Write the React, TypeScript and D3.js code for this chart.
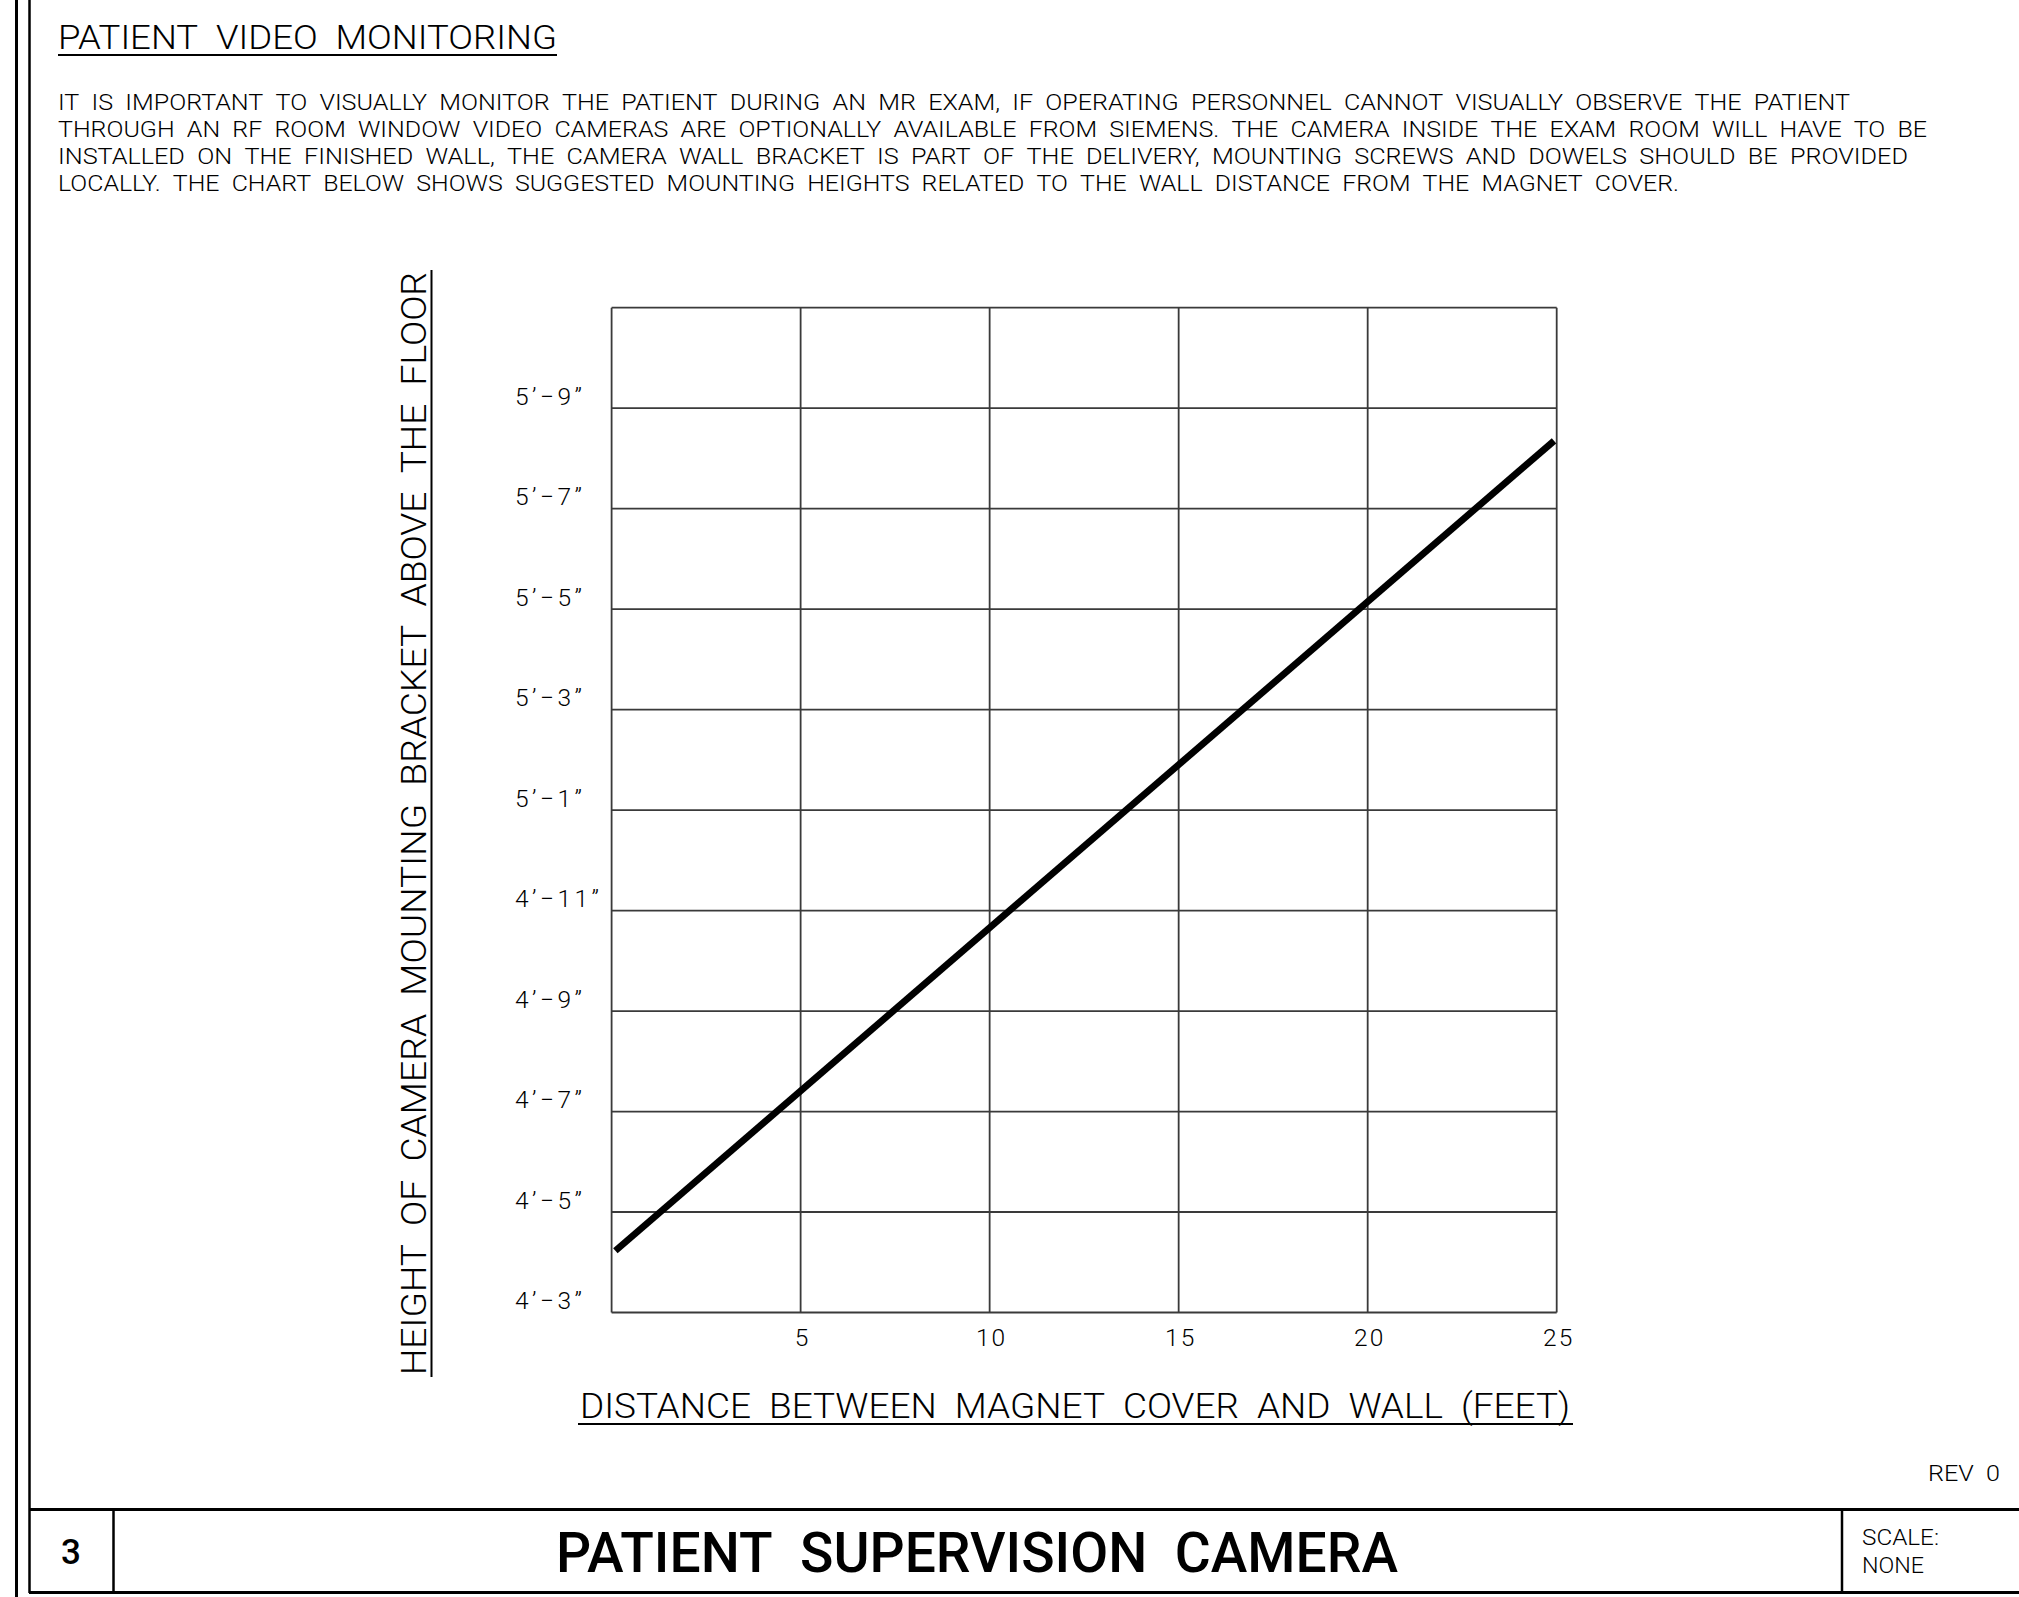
import React from 'react';
import * as d3 from 'd3';

// ---------------- data ----------------
const distanceFeet = [0.1, 24.93];
const heightInches = [52.23, 68.35];

const xDomain = [0, 25];
const yDomain = [51, 71];
const xGridValues = [0, 5, 10, 15, 20, 25];
const xTickValues = [5, 10, 15, 20, 25];
const xTickLabels = ['5', '10', '15', '20', '25'];
const yGridValues = [51, 53, 55, 57, 59, 61, 63, 65, 67, 69, 71];
const yTickValues = [51, 53, 55, 57, 59, 61, 63, 65, 67, 69];
const yTickLabels = [
  '4’−3”', '4’−5”', '4’−7”', '4’−9”', '4’−11”',
  '5’−1”', '5’−3”', '5’−5”', '5’−7”', '5’−9”',
];

const headingText = 'PATIENT VIDEO MONITORING';
const paragraphLines = [
  'IT IS IMPORTANT TO VISUALLY MONITOR THE PATIENT DURING AN MR EXAM, IF OPERATING PERSONNEL CANNOT VISUALLY OBSERVE THE PATIENT',
  'THROUGH AN RF ROOM WINDOW VIDEO CAMERAS ARE OPTIONALLY AVAILABLE FROM SIEMENS. THE CAMERA INSIDE THE EXAM ROOM WILL HAVE TO BE',
  'INSTALLED ON THE FINISHED WALL, THE CAMERA WALL BRACKET IS PART OF THE DELIVERY, MOUNTING SCREWS AND DOWELS SHOULD BE PROVIDED',
  'LOCALLY. THE CHART BELOW SHOWS SUGGESTED MOUNTING HEIGHTS RELATED TO THE WALL DISTANCE FROM THE MAGNET COVER.',
];
const xAxisTitle = 'DISTANCE BETWEEN MAGNET COVER AND WALL (FEET)';
const yAxisTitle = 'HEIGHT OF CAMERA MOUNTING BRACKET ABOVE THE FLOOR';
const blockNumber = '3';
const blockTitle = 'PATIENT SUPERVISION CAMERA';
const scaleLabel = 'SCALE:';
const scaleValue = 'NONE';
const revLabel = 'REV 0';

// ---------------- layout ----------------
const W = 2019;
const H = 1597;
const FONT = "Roboto, 'DejaVu Sans', 'Liberation Sans', sans-serif";
const plot = { left: 611.6, right: 1556.7, top: 307.7, bottom: 1312.5 };
const paraWidths = [1792, 1869, 1850, 1621];

const wide = (s: string) => s.replace(/ /g, '\u00A0\u00A0');

export default function App() {
  const x = d3.scaleLinear().domain(xDomain).range([plot.left, plot.right]);
  const y = d3.scaleLinear().domain(yDomain).range([plot.bottom, plot.top]);
  const pts = distanceFeet.map((d, i) => [d, heightInches[i]] as [number, number]);
  const lineGen = d3
    .line<[number, number]>()
    .x((d) => x(d[0]))
    .y((d) => y(d[1]));

  const gridColor = '#3a3a3a';

  return (
    <>
      <style>{`html,body{margin:0;padding:0;background:#fff;overflow:hidden}`}</style>
      <svg
        width={W}
        height={H}
        viewBox={`0 0 ${W} ${H}`}
        style={{ display: 'block', background: '#fff' }}
        fontFamily={FONT}
        fontWeight={300}
      >
        {/* page borders */}
        <line x1={16.5} y1={0} x2={16.5} y2={H} stroke="#000" strokeWidth={3} />
        <line x1={29.5} y1={0} x2={29.5} y2={1593} stroke="#000" strokeWidth={2.5} />

        {/* heading */}
        <text x={58} y={49} fontSize={34} textLength={499} lengthAdjust="spacingAndGlyphs" fill="#000">
          {wide(headingText)}
        </text>
        <line x1={58} x2={557} y1={55} y2={55} stroke="#000" strokeWidth={2} />

        {/* paragraph */}
        {paragraphLines.map((t, i) => (
          <text
            key={i}
            x={58}
            y={110 + i * 27}
            fontSize={22.5}
            textLength={paraWidths[i]}
            lengthAdjust="spacingAndGlyphs"
            fill="#000"
          >
            {wide(t)}
          </text>
        ))}

        {/* grid */}
        <g stroke={gridColor} strokeWidth={1.8} fill="none">
          {xGridValues.map((v) => (
            <line key={'vx' + v} x1={x(v)} x2={x(v)} y1={y(yDomain[0])} y2={y(yDomain[1])} />
          ))}
          {yGridValues.map((v) => (
            <line key={'hy' + v} x1={x(xDomain[0])} x2={x(xDomain[1])} y1={y(v)} y2={y(v)} />
          ))}
        </g>

        {/* data line */}
        <path d={lineGen(pts) || ''} stroke="#000" strokeWidth={6.8} fill="none" strokeLinecap="butt" />

        {/* y tick labels */}
        {yTickValues.map((v, i) => (
          <text key={'yt' + v} x={515} y={y(v) - 3.5} fontSize={24.5} letterSpacing={3.5} fill="#000">
            {yTickLabels[i]}
          </text>
        ))}

        {/* x tick labels */}
        {xTickValues.map((v, i) => (
          <text
            key={'xt' + v}
            x={x(v) + 2}
            y={1346}
            fontSize={24.5}
            letterSpacing={2}
            textAnchor="middle"
            fill="#000"
          >
            {xTickLabels[i]}
          </text>
        ))}

        {/* x axis title */}
        <text x={580} y={1418} fontSize={35} textLength={990} lengthAdjust="spacingAndGlyphs" fill="#000">
          {wide(xAxisTitle)}
        </text>
        <line x1={578} x2={1573} y1={1424} y2={1424} stroke="#000" strokeWidth={2} />

        {/* y axis title */}
        <text
          transform="translate(426,1375) rotate(-90)"
          fontSize={35}
          textLength={1103}
          lengthAdjust="spacingAndGlyphs"
          fill="#000"
        >
          {wide(yAxisTitle)}
        </text>
        <line x1={431.5} x2={431.5} y1={270} y2={1377} stroke="#000" strokeWidth={2} />

        {/* rev */}
        <text x={1928} y={1481} fontSize={22.5} textLength={72} lengthAdjust="spacingAndGlyphs" fill="#000">
          {wide(revLabel)}
        </text>

        {/* title block */}
        <line x1={29} x2={W} y1={1509.5} y2={1509.5} stroke="#000" strokeWidth={3} />
        <line x1={29} x2={W} y1={1592.5} y2={1592.5} stroke="#000" strokeWidth={3} />
        <line x1={113.5} x2={113.5} y1={1509.5} y2={1592.5} stroke="#000" strokeWidth={2.5} />
        <line x1={1842} x2={1842} y1={1509.5} y2={1592.5} stroke="#000" strokeWidth={2.5} />

        <text x={71} y={1564} fontSize={35} textAnchor="middle" fill="#000" fontWeight={500}>
          {blockNumber}
        </text>
        <text
          x={556}
          y={1572}
          fontSize={56}
          textLength={842}
          lengthAdjust="spacingAndGlyphs"
          fill="#000"
          fontWeight={500}
        >
          {wide(blockTitle)}
        </text>
        <text x={1862} y={1545} fontSize={22.5} textLength={77} lengthAdjust="spacingAndGlyphs" fill="#000">
          {scaleLabel}
        </text>
        <text x={1862} y={1573} fontSize={22.5} textLength={62} lengthAdjust="spacingAndGlyphs" fill="#000">
          {scaleValue}
        </text>
      </svg>
    </>
  );
}
